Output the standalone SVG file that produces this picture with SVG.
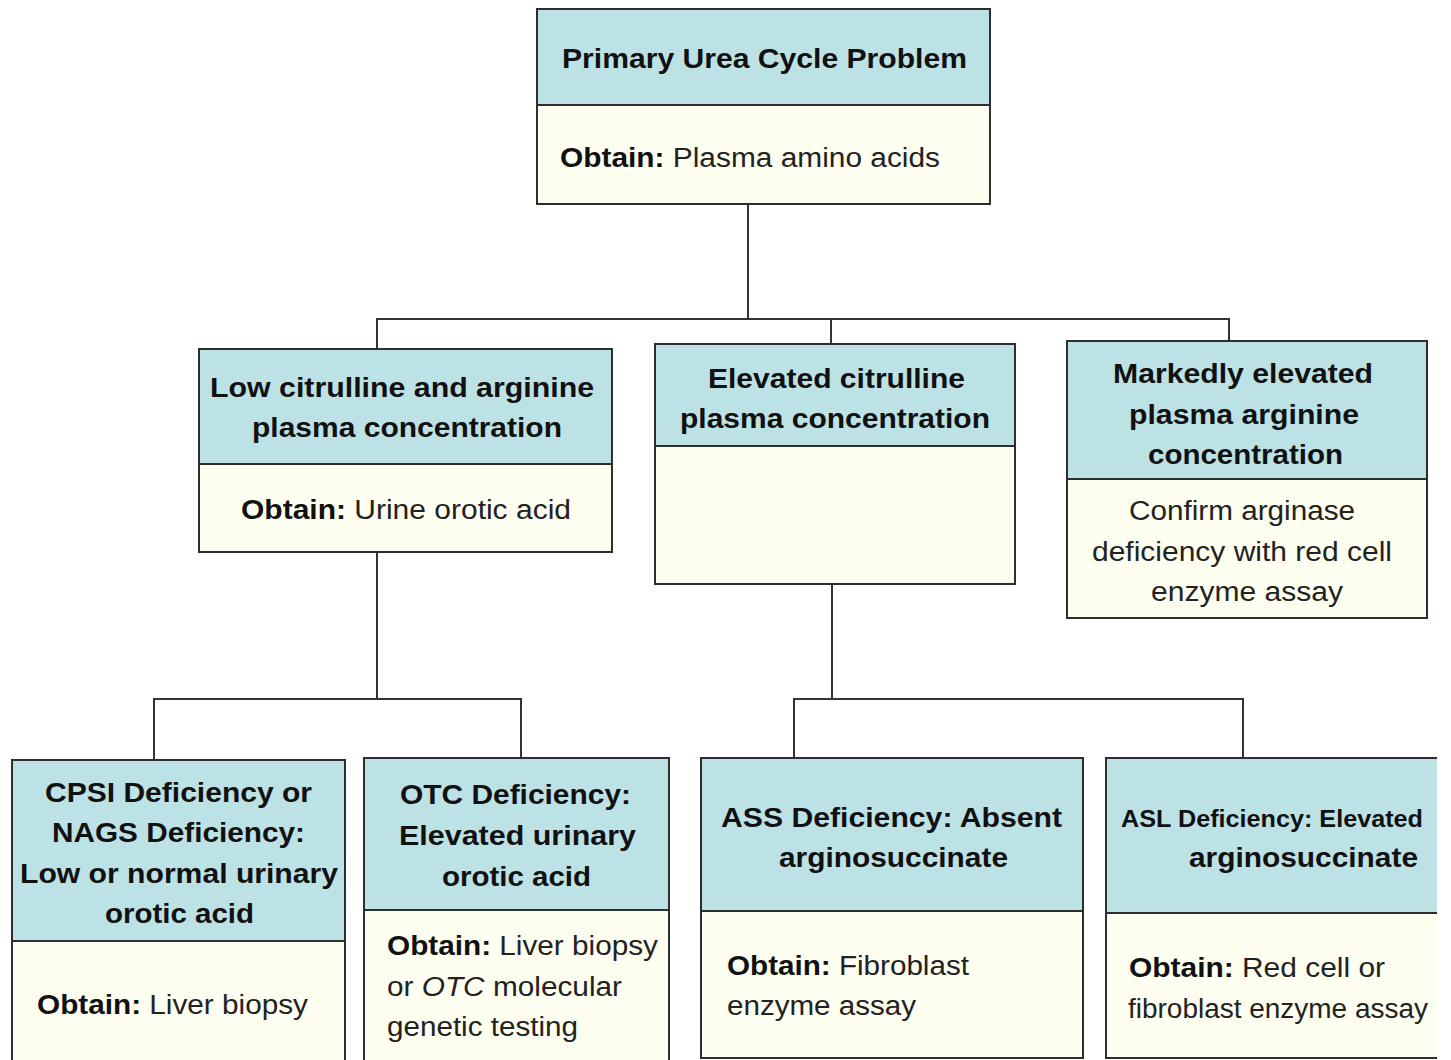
<svg xmlns="http://www.w3.org/2000/svg" width="1451" height="1060" viewBox="0 0 1451 1060">
<style>
.hd{fill:#bde2e6;stroke:#2e2e2e;stroke-width:2}
.bd{fill:#fefef0;stroke:#2e2e2e;stroke-width:2}
.ht{font-family:"Liberation Sans",Arial,sans-serif;font-weight:bold;font-size:28px;fill:#111}
.bt{font-family:"Liberation Sans",Arial,sans-serif;font-size:27px;fill:#222}
.b{font-weight:bold;fill:#111}
.cn{fill:none;stroke:#333;stroke-width:2}
</style>
<defs>
<clipPath id="pageclip"><rect x="0" y="0" width="1437" height="1060"/></clipPath>
</defs>
<rect x="0" y="0" width="1451" height="1060" fill="#ffffff"/>

<g id="connectors">
<path class="cn" d="M748 204 V319 M377 349 V319 H1229 V341 M831 319 V344"/>
<path class="cn" d="M377 552 V699 M154 760 V699 H521 V758"/>
<path class="cn" d="M832 584 V699 M794 758 V699 H1243 V758"/>
</g>

<g id="node-primary">
<rect class="hd" x="537" y="9" width="453" height="96"/>
<rect class="bd" x="537" y="105" width="453" height="99"/>
<text class="ht" x="562" y="68" textLength="405" lengthAdjust="spacingAndGlyphs">Primary Urea Cycle Problem</text>
<text class="bt" x="560" y="167" textLength="380" lengthAdjust="spacingAndGlyphs"><tspan class="b">Obtain:</tspan> Plasma amino acids</text>
</g>

<g id="node-low">
<rect class="hd" x="199" y="349" width="413" height="115"/>
<rect class="bd" x="199" y="464" width="413" height="88"/>
<text class="ht" x="210" y="397" textLength="384" lengthAdjust="spacingAndGlyphs">Low citrulline and arginine</text>
<text class="ht" x="252" y="437" textLength="310" lengthAdjust="spacingAndGlyphs">plasma concentration</text>
<text class="bt" x="241" y="519" textLength="330" lengthAdjust="spacingAndGlyphs"><tspan class="b">Obtain:</tspan> Urine orotic acid</text>
</g>

<g id="node-elevated">
<rect class="hd" x="655" y="344" width="360" height="102"/>
<rect class="bd" x="655" y="446" width="360" height="138"/>
<text class="ht" x="708" y="388" textLength="257" lengthAdjust="spacingAndGlyphs">Elevated citrulline</text>
<text class="ht" x="680" y="428" textLength="310" lengthAdjust="spacingAndGlyphs">plasma concentration</text>
</g>

<g id="node-marked">
<rect class="hd" x="1067" y="341" width="360" height="138"/>
<rect class="bd" x="1067" y="479" width="360" height="139"/>
<text class="ht" x="1113" y="383" textLength="260" lengthAdjust="spacingAndGlyphs">Markedly elevated</text>
<text class="ht" x="1129" y="424" textLength="230" lengthAdjust="spacingAndGlyphs">plasma arginine</text>
<text class="ht" x="1148" y="464" textLength="195" lengthAdjust="spacingAndGlyphs">concentration</text>
<text class="bt" x="1129" y="520" textLength="226" lengthAdjust="spacingAndGlyphs">Confirm arginase</text>
<text class="bt" x="1092" y="561" textLength="300" lengthAdjust="spacingAndGlyphs">deficiency with red cell</text>
<text class="bt" x="1151" y="601" textLength="192" lengthAdjust="spacingAndGlyphs">enzyme assay</text>
</g>

<g id="node-cpsi">
<rect class="hd" x="12" y="760" width="333" height="181"/>
<rect class="bd" x="12" y="941" width="333" height="130"/>
<text class="ht" x="45" y="802" textLength="267" lengthAdjust="spacingAndGlyphs">CPSI Deficiency or</text>
<text class="ht" x="52" y="842" textLength="253" lengthAdjust="spacingAndGlyphs">NAGS Deficiency:</text>
<text class="ht" x="20" y="883" textLength="318" lengthAdjust="spacingAndGlyphs">Low or normal urinary</text>
<text class="ht" x="105" y="923" textLength="149" lengthAdjust="spacingAndGlyphs">orotic acid</text>
<text class="bt" x="37" y="1014" textLength="271" lengthAdjust="spacingAndGlyphs"><tspan class="b">Obtain:</tspan> Liver biopsy</text>
</g>

<g id="node-otc">
<rect class="hd" x="364" y="758" width="305" height="152"/>
<rect class="bd" x="364" y="910" width="305" height="160"/>
<text class="ht" x="400" y="804" textLength="231" lengthAdjust="spacingAndGlyphs">OTC Deficiency:</text>
<text class="ht" x="399" y="845" textLength="237" lengthAdjust="spacingAndGlyphs">Elevated urinary</text>
<text class="ht" x="442" y="886" textLength="149" lengthAdjust="spacingAndGlyphs">orotic acid</text>
<text class="bt" x="387" y="955" textLength="271" lengthAdjust="spacingAndGlyphs"><tspan class="b">Obtain:</tspan> Liver biopsy</text>
<text class="bt" x="387" y="996" textLength="235" lengthAdjust="spacingAndGlyphs">or <tspan font-style="italic">OTC</tspan> molecular</text>
<text class="bt" x="387" y="1036" textLength="191" lengthAdjust="spacingAndGlyphs">genetic testing</text>
</g>

<g id="node-ass">
<rect class="hd" x="701" y="758" width="382" height="153"/>
<rect class="bd" x="701" y="911" width="382" height="147"/>
<text class="ht" x="721" y="827" textLength="341" lengthAdjust="spacingAndGlyphs">ASS Deficiency: Absent</text>
<text class="ht" x="779" y="867" textLength="229" lengthAdjust="spacingAndGlyphs">arginosuccinate</text>
<text class="bt" x="727" y="975" textLength="242" lengthAdjust="spacingAndGlyphs"><tspan class="b">Obtain:</tspan> Fibroblast</text>
<text class="bt" x="727" y="1015" textLength="189" lengthAdjust="spacingAndGlyphs">enzyme assay</text>
</g>

<g id="node-asl">
<g clip-path="url(#pageclip)">
<rect class="hd" x="1106" y="758" width="394" height="155"/>
<rect class="bd" x="1106" y="913" width="394" height="145"/>
</g>
<text class="ht" x="1121" y="827" style="font-size:24px" textLength="302" lengthAdjust="spacingAndGlyphs">ASL Deficiency: Elevated</text>
<text class="ht" x="1189" y="867" textLength="229" lengthAdjust="spacingAndGlyphs">arginosuccinate</text>
<text class="bt" x="1129" y="977" textLength="256" lengthAdjust="spacingAndGlyphs"><tspan class="b">Obtain:</tspan> Red cell or</text>
<text class="bt" x="1128" y="1018" textLength="300" lengthAdjust="spacingAndGlyphs">fibroblast enzyme assay</text>
</g>
</svg>
